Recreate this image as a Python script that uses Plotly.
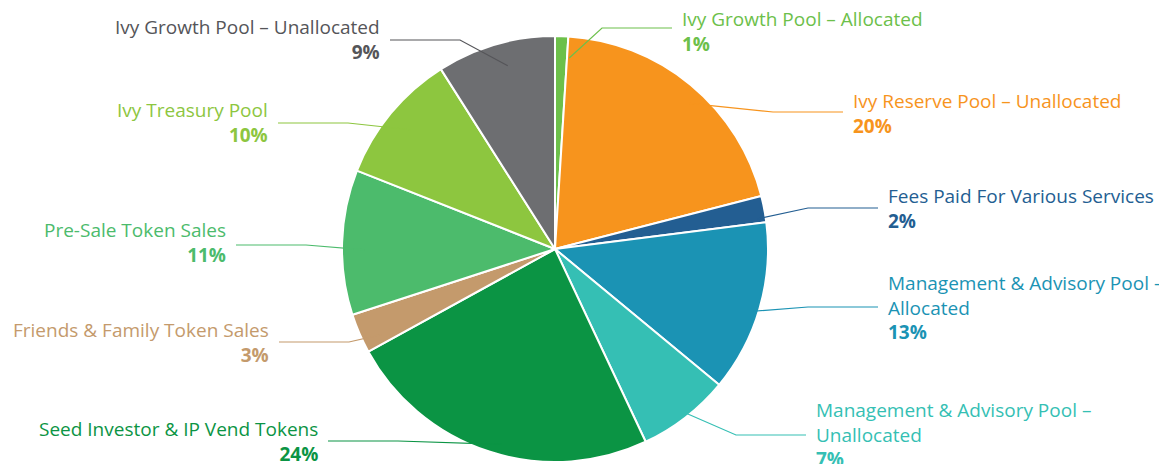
import plotly.graph_objects as go
import math

W, H = 1167, 464
labels = ["Ivy Growth Pool – Allocated", "Ivy Reserve Pool – Unallocated", "Fees Paid For Various Services",
          "Management & Advisory Pool –<br>Allocated", "Management & Advisory Pool –<br>Unallocated",
          "Seed Investor & IP Vend Tokens", "Friends & Family Token Sales", "Pre-Sale Token Sales",
          "Ivy Treasury Pool", "Ivy Growth Pool – Unallocated"]
values = [1, 20, 2, 13, 7, 24, 3, 11, 10, 9]
colors = ["#6cc04a", "#f7941d", "#235e92", "#1b93b4", "#35bfb4", "#0b9444", "#c49a6c", "#4cbb6c", "#8dc63f", "#6d6e71"]
text_colors = ["#6cc04a", "#f7941d", "#235e92", "#1b93b4", "#35bfb4", "#0b9444", "#c49a6c", "#4cbb6c", "#8dc63f", "#555559"]

# label layout (pixel): text x edge, top y, line y, side
label_pos = [(672, -4, 20, 1), (843, 78, 104, 1), (878, 173, 200, 1), (878, 260, 299, 1), (806, 387, 427, 1),
             (312, 406, 433, -1), (263, 307, 334, -1), (220, 207, 237, -1), (262, 87, 115, -1), (374, 4, 32, -1)]

cx, cy, R = 547, 241, 213
fig = go.Figure(go.Pie(values=values, labels=labels, sort=False, direction="clockwise", rotation=0,
                       marker=dict(colors=colors, line=dict(color="white", width=2)),
                       textinfo="none", hoverinfo="label+percent", showlegend=False,
                       domain=dict(x=[(cx - R) / W, (cx + R) / W], y=[(H - cy - R) / H, (H - cy + R) / H])))

px = lambda x: x / W
py = lambda y: 1 - y / H
total = sum(values)
cum = 0
ccx, ccy = 555, 248
for i, v in enumerate(values):
    mid = (cum + v / 2) / total * 2 * math.pi
    cum += v
    sx, sy = ccx + R * 0.93 * math.sin(mid), ccy - R * 0.93 * math.cos(mid)
    tx, ty, ly, side = label_pos[i]
    ex = tx - 8 if side == 1 else tx + 8
    elx = ex - side * 70
    fig.add_shape(type="path", xref="paper", yref="paper",
                  path=f"M {px(sx)} {py(sy)} L {px(elx)} {py(ly)} L {px(ex)} {py(ly)}",
                  line=dict(color=text_colors[i], width=1.2))
    fig.add_annotation(x=px(tx), y=py(ty), xref="paper", yref="paper", showarrow=False,
                       xanchor="left" if side == 1 else "right", yanchor="top",
                       align="left" if side == 1 else "right",
                       text=f"{labels[i]}<br><b>{v}%</b>",
                       font=dict(family="Open Sans", size=19, color=text_colors[i]))

fig.update_layout(width=W, height=H, margin=dict(l=0, r=0, t=0, b=0),
                  paper_bgcolor="white", plot_bgcolor="white")
fig.write_html("out.html")
